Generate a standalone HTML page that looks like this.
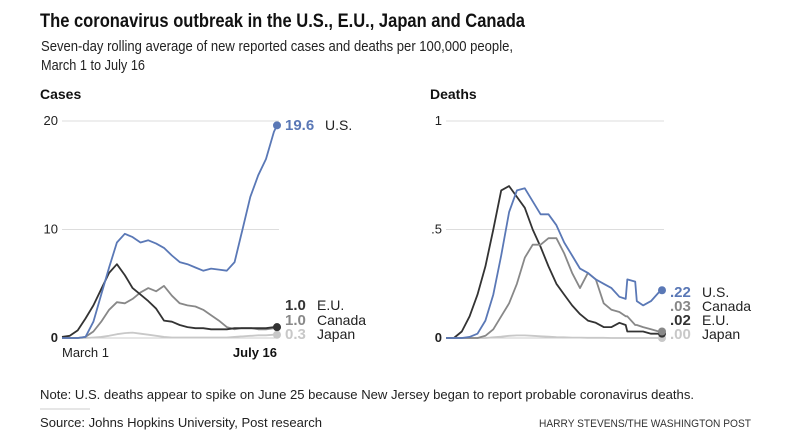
<!DOCTYPE html>
<html><head><meta charset="utf-8"><style>
html,body{margin:0;padding:0;background:#fff;}
svg{display:block;font-family:"Liberation Sans",sans-serif;}
</style></head><body>
<svg id="c" width="791" height="436" viewBox="0 0 791 436">
<text x="40" y="27" font-size="19" font-weight="bold" fill="#111" textLength="485" lengthAdjust="spacingAndGlyphs">The coronavirus outbreak in the U.S., E.U., Japan and Canada</text>
<text x="41" y="51" font-size="15" fill="#222" textLength="472" lengthAdjust="spacingAndGlyphs">Seven-day rolling average of new reported cases and deaths per 100,000 people,</text>
<text x="41" y="70" font-size="15" fill="#222" textLength="104" lengthAdjust="spacingAndGlyphs">March 1 to July 16</text>
<text x="40" y="99" font-size="14" font-weight="bold" fill="#111">Cases</text>
<text x="430" y="99" font-size="14" font-weight="bold" fill="#111">Deaths</text>
<g id="cases"></g>
<g id="deaths"></g>
<text x="40" y="399" font-size="13" fill="#222" textLength="654" lengthAdjust="spacingAndGlyphs">Note: U.S. deaths appear to spike on June 25 because New Jersey began to report probable coronavirus deaths.</text>
<line x1="40" y1="409" x2="90" y2="409" stroke="#ccc"/>
<text x="40" y="427" font-size="13" fill="#222" textLength="282" lengthAdjust="spacingAndGlyphs">Source: Johns Hopkins University, Post research</text>
<text x="751" y="427" font-size="11" fill="#333" text-anchor="end" textLength="212" lengthAdjust="spacingAndGlyphs">HARRY STEVENS/THE WASHINGTON POST</text>
</svg>
<script>
const days=[0,5,10,15,20,25,30,35,40,45,50,55,60,65,70,75,80,85,90,95,100,105,110,114,115,120,121,125,130,135,137];
const usCases=[0,0,0,0.1,1.5,4,6.5,8.8,9.6,9.3,8.8,9.0,8.7,8.3,7.6,7.0,6.8,6.5,6.2,6.4,6.3,6.2,7.0,9.4,10,13,13.4,15,16.5,19,19.6];
const euCases=[0.1,0.2,0.7,1.8,3.0,4.5,6.0,6.8,5.8,4.6,4.0,3.4,2.7,1.6,1.5,1.2,1.0,0.9,0.9,0.8,0.8,0.8,0.9,0.9,0.9,0.9,0.9,0.9,0.9,1.0,1.0];
const caCases=[0,0,0,0.1,0.6,1.5,2.6,3.3,3.2,3.6,4.2,4.6,4.3,4.8,3.9,3.2,3.0,2.9,2.6,2.1,1.6,1.0,0.8,0.9,0.9,0.9,0.9,0.8,0.8,0.9,1.0];
const jpCases=[0,0,0,0,0.05,0.1,0.2,0.35,0.45,0.5,0.4,0.3,0.2,0.1,0.05,0.05,0.05,0.05,0.05,0.05,0.05,0.05,0.1,0.15,0.15,0.2,0.2,0.25,0.25,0.3,0.3];
const usDeaths=[0,0,0,0.005,0.02,0.08,0.2,0.38,0.58,0.68,0.69,0.63,0.57,0.57,0.52,0.44,0.38,0.32,0.3,0.27,0.25,0.23,0.19,0.18,0.27,0.26,0.17,0.15,0.17,0.21,0.22];
const euDeaths=[0,0,0.03,0.1,0.2,0.33,0.5,0.68,0.7,0.65,0.6,0.5,0.42,0.33,0.25,0.2,0.15,0.11,0.08,0.07,0.05,0.05,0.07,0.06,0.03,0.03,0.03,0.03,0.02,0.02,0.02];
const caDeaths=[0,0,0,0,0,0.01,0.04,0.1,0.16,0.25,0.37,0.43,0.43,0.46,0.46,0.39,0.3,0.23,0.3,0.27,0.16,0.13,0.12,0.1,0.1,0.06,0.06,0.05,0.04,0.03,0.03];
const jpDeaths=[0,0,0,0,0,0,0.003,0.006,0.01,0.012,0.012,0.01,0.008,0.006,0.004,0.003,0.002,0.002,0.001,0.001,0.001,0,0,0,0,0,0,0,0,0,0];
const caseTicks=[0,10,20];
const caseTickLabels=["0","10","20"];
const deathTicks=[0,0.5,1];
const deathTickLabels=["0",".5","1"];
const caseEndLabels=["19.6","1.0","1.0","0.3"];
const deathEndLabels=[".22",".03",".02",".00"];

const NS="http://www.w3.org/2000/svg";
function mk(parent,tag,attrs,text){const e=document.createElementNS(NS,tag);for(const k in attrs)e.setAttribute(k,attrs[k]);if(text!==undefined)e.textContent=text;parent.appendChild(e);return e;}

function drawChart(gid,x0,x1,yMax,ticks,tickLabels,series,endLabels,labelYs,nameOffsets,dateLabels){
  const g=document.getElementById(gid);
  const y0=338,yTop=121;
  const xs=d=>x0+d/137*(x1-x0);
  const ys=v=>y0-v/yMax*(y0-yTop);
  ticks.forEach((t,i)=>{
    if(t>0){const l=mk(g,'line',{x1:x0,x2:x1+2,y1:ys(t),y2:ys(t),stroke:'#ddd'});
      
      }
    const tx=mk(g,'text',{x:x0-4,y:ys(t)+4,'font-size':13,'text-anchor':'end',fill:'#222','font-weight':t===0?'bold':'normal'},tickLabels[i]);
    
    
  });
  const bl=mk(g,'line',{x1:x0,x2:x1,y1:y0,y2:y0,stroke:'#ccc'});
  
  
  series.slice().reverse().forEach((s,ri)=>{
    const i=series.length-1-ri;
    const d=s.vals.map((v,j)=>(j?'L':'M')+xs(days[j]).toFixed(1)+','+ys(v).toFixed(1)).join('');
    const p=mk(g,'path',{d:d,fill:'none',stroke:s.color,'stroke-width':1.8,'stroke-linejoin':'round'});
    
    
    const last=s.vals[s.vals.length-1];
    const c=mk(g,'circle',{cx:xs(137),cy:ys(last),r:4,fill:s.color});
    
    
    const lv=mk(g,'text',{x:xs(137)+8,y:labelYs[i],'font-size':15,'font-weight':'bold',fill:s.color},endLabels[i]);
    
    
    const ln=mk(g,'text',{x:xs(137)+8+nameOffsets[i],y:labelYs[i],'font-size':14,fill:'#222'},s.label);
    
    
  });
  if(dateLabels){
    const a=mk(g,'text',{x:x0,y:357,'font-size':13,fill:'#222'},'March 1');
    
    
    const b=mk(g,'text',{x:x1,y:357,'font-size':13,'font-weight':'bold','text-anchor':'end',fill:'#111'},'July 16');
    
    
  }
}
const US='#5a78b6',EU='#333',CA='#888',JP='#c8c8c8';
drawChart('cases',62,277,20,caseTicks,caseTickLabels,[
  {name:'us',label:'U.S.',color:US,vals:usCases},
  {name:'eu',label:'E.U.',color:EU,vals:euCases},
  {name:'canada',label:'Canada',color:CA,vals:caCases},
  {name:'japan',label:'Japan',color:JP,vals:jpCases}
],caseEndLabels,[130,310,325,339],[40,32,32,32],true);
drawChart('deaths',446,662,1,deathTicks,deathTickLabels,[
  {name:'us',label:'U.S.',color:US,vals:usDeaths},
  {name:'canada',label:'Canada',color:CA,vals:caDeaths},
  {name:'eu',label:'E.U.',color:EU,vals:euDeaths},
  {name:'japan',label:'Japan',color:JP,vals:jpDeaths}
],deathEndLabels,[297,311,325,339],[32,32,32,32],false);
</script>
</body></html>
